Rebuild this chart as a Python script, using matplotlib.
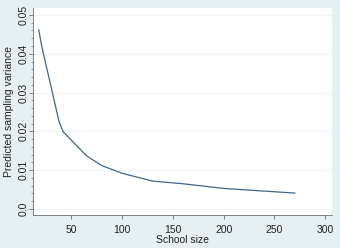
import matplotlib

matplotlib.use("Agg")

import matplotlib.pyplot as plt
from matplotlib.ticker import MultipleLocator

# data
school_size = [18, 21, 38, 42, 65, 80, 100, 130, 160, 200, 270]
pred_var = [0.0461, 0.0418, 0.0225, 0.0199, 0.0137, 0.0112, 0.0092, 0.0072, 0.0065, 0.0053, 0.0041]
x_ticks = [50, 100, 150, 200, 250, 300]
y_ticks = [0.0, 0.01, 0.02, 0.03, 0.04, 0.05]
y_labels = ["0.0", "0.01", "0.02", "0.03", "0.04", "0.05"]

BG = "#E6F0F3"
LINE = "#41658A"
AXIS = "#6E6E6E"

plt.rcParams["font.family"] = ["Liberation Sans", "DejaVu Sans"]

fig = plt.figure(figsize=(3.4, 2.48), dpi=100, facecolor=BG)
ax = fig.add_axes([0.0985, 0.133, 0.877, 0.835])
ax.set_facecolor("white")

for y in y_ticks:
    ax.axhline(y, color="#EEF4F6", lw=0.8, zorder=0)

ax.plot(school_size, pred_var, color=LINE, lw=0.9)

ax.set_xlim(12.8, 306.3)
ax.set_ylim(-0.00155, 0.0518)

ax.set_xticks(x_ticks)
ax.set_yticks(y_ticks)
ax.set_yticklabels(y_labels, rotation=90, va="center")
ax.yaxis.set_minor_locator(MultipleLocator(0.002))

ax.tick_params(axis="both", which="major", direction="out", length=3, width=0.6,
               color=AXIS, labelsize=7.5, labelcolor="#222222")
ax.tick_params(axis="x", which="major", pad=4)
ax.tick_params(axis="y", which="major", pad=0.5)
ax.tick_params(axis="y", which="minor", direction="out", length=1.8, width=0.5, color=AXIS)

for side in ("top", "right"):
    ax.spines[side].set_visible(False)
for side in ("left", "bottom"):
    ax.spines[side].set_color(AXIS)
    ax.spines[side].set_linewidth(0.6)

ax.set_xlabel("School size", fontsize=7.5, color="#222222", labelpad=0.5)
ax.set_ylabel("Predicted sampling variance", fontsize=7.5, color="#222222", labelpad=3)

fig.savefig("out.png", dpi=100, facecolor=BG)
